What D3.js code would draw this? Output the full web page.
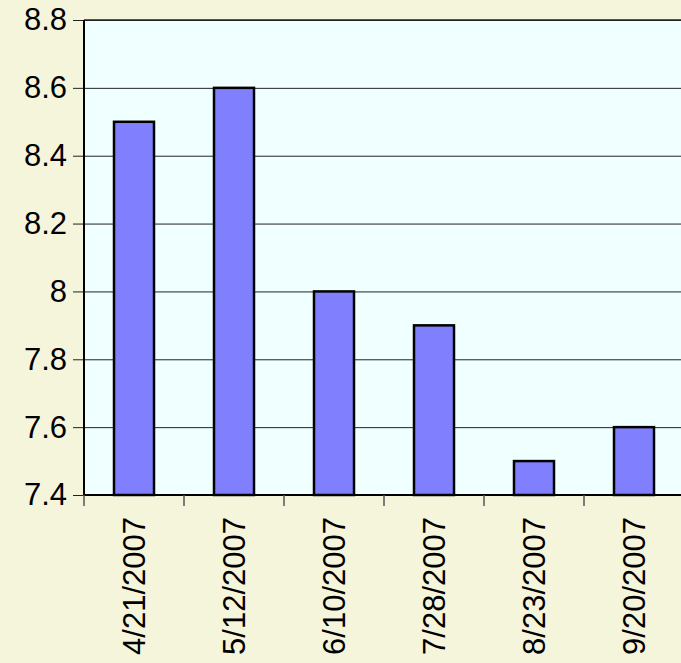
<!DOCTYPE html>
<html>
<head>
<meta charset="utf-8">
<script src="https://cdn.jsdelivr.net/npm/d3@7"></script>
<style>
  body { margin: 0; background: #F5F5DC; }
  svg { display: block; }
</style>
</head>
<body>
<div id="chart"></div>
<script>
var dates = ["4/21/2007", "5/12/2007", "6/10/2007", "7/28/2007", "8/23/2007", "9/20/2007"];
var values = [8.5, 8.6, 8.0, 7.9, 7.5, 7.6];
var yTicks = [7.4, 7.6, 7.8, 8, 8.2, 8.4, 8.6, 8.8];

var w = 681;
var h = 663;
var plotLeft = 84, plotTop = 20, plotW = 600, plotH = 475;

var svg = d3.select("#chart")
            .append("svg")
            .attr("width", w)
            .attr("height", h);

var x = d3.scaleBand()
          .domain(dates)
          .range([plotLeft, plotLeft + plotW])
          .paddingInner(0.6)
          .paddingOuter(0.3);

var y = d3.scaleLinear()
          .domain([7.4, 8.8])
          .range([plotTop + plotH, plotTop]);

// plot background
svg.append("rect")
   .attr("x", plotLeft)
   .attr("y", plotTop)
   .attr("width", plotW)
   .attr("height", plotH)
   .style("fill", "#F0FFFF");

// gridlines + y axis
var yAxis = d3.axisLeft(y)
              .tickValues(yTicks)
              .tickSize(-(plotW + 11))
              .tickPadding(6)
              .tickFormat(function(d) { return String(d); });

var gy = svg.append("g")
            .attr("transform", "translate(" + (plotLeft - 11) + ",0)")
            .call(yAxis);
gy.select(".domain").remove();
gy.selectAll("line")
  .attr("x1", 0)
  .attr("x2", plotW + 11)
  .style("stroke", "#222")
  .style("stroke-width", 1);
gy.selectAll("text")
  .attr("x", -6)
  .style("font-family", "Liberation Sans, Arial, sans-serif")
  .style("font-size", "31px")
  .style("fill", "#000");

// top border
svg.append("line")
   .attr("x1", plotLeft).attr("x2", plotLeft + plotW)
   .attr("y1", plotTop).attr("y2", plotTop)
   .style("stroke", "#222").style("stroke-width", 1.5);

// bars
svg.selectAll("rect.bar")
   .data(values)
   .enter()
   .append("rect")
   .attr("class", "bar")
   .attr("x", function(d, i) { return x(dates[i]); })
   .attr("y", function(d) { return y(d); })
   .attr("width", x.bandwidth())
   .attr("height", function(d) { return y(7.4) - y(d); })
   .style("fill", "#8080FF")
   .style("stroke", "#000")
   .style("stroke-width", 2.5);

// left axis line
svg.append("line")
   .attr("x1", plotLeft).attr("x2", plotLeft)
   .attr("y1", plotTop).attr("y2", plotTop + plotH)
   .style("stroke", "#000").style("stroke-width", 2);

// bottom axis line
svg.append("line")
   .attr("x1", plotLeft).attr("x2", plotLeft + plotW)
   .attr("y1", plotTop + plotH).attr("y2", plotTop + plotH)
   .style("stroke", "#000").style("stroke-width", 2);

// category ticks at band edges
var step = x.step();
var edges = d3.range(dates.length + 1).map(function(i) { return plotLeft + i * step; });
svg.selectAll("line.xtick")
   .data(edges)
   .enter()
   .append("line")
   .attr("class", "xtick")
   .attr("x1", function(d) { return d; })
   .attr("x2", function(d) { return d; })
   .attr("y1", plotTop + plotH)
   .attr("y2", plotTop + plotH + 11)
   .style("stroke", "#555")
   .style("stroke-width", 1.5);

// x labels, rotated
svg.selectAll("text.xlabel")
   .data(dates)
   .enter()
   .append("text")
   .attr("class", "xlabel")
   .text(function(d) { return d; })
   .attr("transform", function(d) {
        return "translate(" + (x(d) + x.bandwidth() / 2 + 11) + "," + (plotTop + plotH + 22) + ") rotate(-90)";
   })
   .attr("text-anchor", "end")
   .style("font-family", "Liberation Sans, Arial, sans-serif")
   .style("font-size", "31px")
   .style("fill", "#000");
</script>
</body>
</html>
